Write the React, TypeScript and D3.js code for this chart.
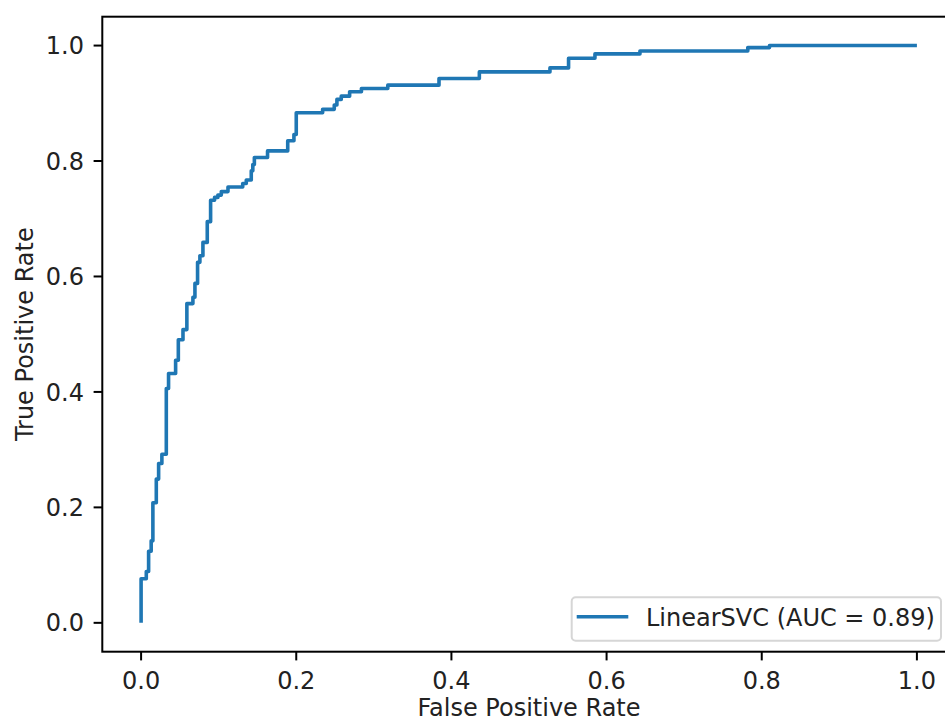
import * as d3 from 'd3';

// ROC curve corners
const fpr = [
  0, 0, 0.0067, 0.0067, 0.0097, 0.0097, 0.013, 0.013, 0.0152, 0.0152,
  0.0196, 0.0196, 0.0226, 0.0226, 0.0268, 0.0268, 0.0325, 0.0325, 0.0354, 0.0354,
  0.0445, 0.0445, 0.048, 0.048, 0.054, 0.054, 0.059, 0.059, 0.0668, 0.0668,
  0.0694, 0.0694, 0.0728, 0.0728, 0.0758, 0.0758, 0.0797, 0.0797, 0.0853, 0.0853,
  0.0896, 0.0896, 0.0947, 0.0947, 0.099, 0.099, 0.1034, 0.1034, 0.112, 0.112,
  0.131, 0.131, 0.1356, 0.1356, 0.142, 0.142, 0.144, 0.144, 0.146, 0.146,
  0.163, 0.163, 0.189, 0.189, 0.197, 0.197, 0.2, 0.2, 0.234, 0.234,
  0.249, 0.249, 0.2524, 0.2524, 0.258, 0.258, 0.2688, 0.2688, 0.284, 0.284,
  0.318, 0.318, 0.384, 0.384, 0.436, 0.436, 0.527, 0.527, 0.551, 0.551,
  0.585, 0.585, 0.643, 0.643, 0.782, 0.782, 0.81, 0.81, 1.0,
];
const tpr = [
  0, 0.0765, 0.0765, 0.089, 0.089, 0.124, 0.124, 0.142, 0.142, 0.208,
  0.208, 0.249, 0.249, 0.276, 0.276, 0.292, 0.292, 0.406, 0.406, 0.432,
  0.432, 0.455, 0.455, 0.4905, 0.4905, 0.508, 0.508, 0.553, 0.553, 0.564,
  0.564, 0.588, 0.588, 0.6245, 0.6245, 0.636, 0.636, 0.659, 0.659, 0.695,
  0.695, 0.732, 0.732, 0.737, 0.737, 0.741, 0.741, 0.747, 0.747, 0.755,
  0.755, 0.761, 0.761, 0.767, 0.767, 0.783, 0.783, 0.794, 0.794, 0.806,
  0.806, 0.8175, 0.8175, 0.835, 0.835, 0.846, 0.846, 0.8836, 0.8836, 0.8895,
  0.8895, 0.897, 0.897, 0.9067, 0.9067, 0.9124, 0.9124, 0.92, 0.92, 0.9256,
  0.9256, 0.9314, 0.9314, 0.943, 0.943, 0.9544, 0.9544, 0.9613, 0.9613, 0.978,
  0.978, 0.9856, 0.9856, 0.9907, 0.9907, 0.9965, 0.9965, 1.0, 1.0,
];
const xTicks = [0, 0.2, 0.4, 0.6, 0.8, 1.0];
const yTicks = [0, 0.2, 0.4, 0.6, 0.8, 1.0];
const legendLabel = 'LinearSVC (AUC = 0.89)';

const W = 945;
const H = 722;
const font = 'DejaVu Sans, sans-serif';
const fs = 24;

export default function App() {
  // axes box (figure is cropped on the right)
  const left = 102.3, top = 16.7, axW = 853.4, axH = 635;
  const x = d3.scaleLinear().domain([-0.05, 1.05]).range([left, left + axW]);
  const y = d3.scaleLinear().domain([-0.05, 1.05]).range([top + axH, top]);

  const pts = fpr.map((f, i) => [f, tpr[i]] as [number, number]);
  const line = d3.line<[number, number]>()
    .x(d => x(d[0]))
    .y(d => y(d[1]));

  const tickLen = 8.7;
  const bottom = top + axH;

  return (
    <svg width={W} height={H} style={{ position: 'absolute', left: 0, top: 0, background: '#fff' }}
      fontFamily={font}>
      <rect x={0} y={0} width={W} height={H} fill="#fff" />

      {/* curve */}
      <path d={line(pts) || ''} fill="none" stroke="#1f77b4" strokeWidth={3.6}
        strokeLinejoin="round" strokeLinecap="butt" />

      {/* frame */}
      <rect x={left} y={top} width={axW} height={axH} fill="none" stroke="#000" strokeWidth={2} />

      {/* x axis */}
      {xTicks.map(t => (
        <g key={'x' + t}>
          <line x1={x(t)} x2={x(t)} y1={bottom} y2={bottom + tickLen} stroke="#000" strokeWidth={2} />
          <text x={x(t)} y={688.5} textAnchor="middle" fontSize={fs} fill="#222">{t.toFixed(1)}</text>
        </g>
      ))}
      <text x={left + axW / 2} y={716} textAnchor="middle" fontSize={fs} fill="#222">False Positive Rate</text>

      {/* y axis */}
      {yTicks.map(t => (
        <g key={'y' + t}>
          <line x1={left - tickLen} x2={left} y1={y(t)} y2={y(t)} stroke="#000" strokeWidth={2} />
          <text x={84} y={y(t)} dy="0.36em" textAnchor="end" fontSize={fs} fill="#222">{t.toFixed(1)}</text>
        </g>
      ))}
      <text transform={`translate(33,${top + axH / 2}) rotate(-90)`} textAnchor="middle" fontSize={fs}
        fill="#222">True Positive Rate</text>

      {/* legend */}
      <g>
        <rect x={571.7} y={597.3} width={369.3} height={43.4} rx={4} fill="#fff" fillOpacity={0.8}
          stroke="#d6d6d6" strokeWidth={2} />
        <line x1={576.7} x2={628.3} y1={616.7} y2={616.7} stroke="#1f77b4" strokeWidth={3.6} />
        <text x={646} y={626} fontSize={fs} fill="#222">{legendLabel}</text>
      </g>
    </svg>
  );
}
